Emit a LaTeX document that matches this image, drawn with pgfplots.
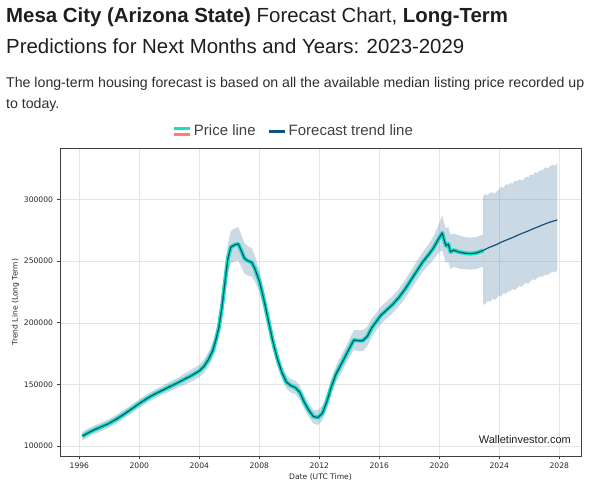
\documentclass[border=0pt]{standalone}
\usepackage{fontspec}
\setmainfont{Liberation Sans}
\newfontfamily\dejavu{DejaVu Sans}
\usepackage{pgfplots}
\pgfplotsset{compat=1.18}
\usepgfplotslibrary{fillbetween}
\usepackage{pgfplotstable}

\definecolor{turq}{RGB}{24,224,184}
\definecolor{salmonc}{RGB}{250,128,114}
\definecolor{trend}{RGB}{14,82,128}
\definecolor{bandc}{RGB}{80,130,163}
\definecolor{titlec}{RGB}{30,30,30}
\definecolor{parac}{RGB}{45,45,45}

% history: x = decimal year, v = median price, w = half width of the band
\pgfplotstableread{
x v w
1996.2 108000 3500
1996.6 110800 3500
1997.0 113200 3500
1997.5 115800 3500
1998.0 118500 3500
1998.5 122000 3500
1999.0 126000 3500
1999.5 130200 3500
2000.0 134500 3500
2000.5 138500 3500
2001.0 142000 3500
2001.5 145000 3500
2002.0 148000 4000
2002.5 151000 4000
2003.0 154200 4500
2003.5 157300 5000
2004.0 161000 5000
2004.3 164500 5500
2004.6 170000 6000
2004.9 177500 6500
2005.1 186000 7000
2005.3 196000 7500
2005.5 212000 8500
2005.7 232000 10000
2005.9 252000 11500
2006.1 261500 13000
2006.4 263500 13500
2006.6 264000 13500
2006.8 258500 13000
2007.0 252500 12500
2007.2 250500 12000
2007.5 249000 11500
2007.7 244000 10500
2008.0 234000 9000
2008.3 219000 8000
2008.6 202000 7000
2008.9 185000 6000
2009.2 171000 5500
2009.5 160000 5500
2009.8 152000 5500
2010.1 149000 5500
2010.4 147500 5500
2010.7 143500 5500
2011.0 135500 5500
2011.3 129000 5500
2011.6 124000 5500
2011.9 123000 6000
2012.2 126500 6000
2012.5 136000 6000
2012.8 148000 6500
2013.1 158000 6500
2013.4 165000 7000
2013.7 172000 7000
2014.0 179000 7500
2014.3 186000 8000
2014.6 185500 8500
2014.9 185500 8500
2015.2 189000 8000
2015.5 196000 7500
2015.8 201000 7000
2016.1 206000 7000
2016.5 210500 7000
2016.9 215000 7000
2017.3 220500 7000
2017.7 227000 7500
2018.1 234500 7500
2018.5 242000 8000
2018.9 249500 8000
2019.3 255500 8500
2019.6 260500 9500
2019.9 267000 11000
2020.2 273000 14000
2020.35 266000 14000
2020.45 262500 14000
2020.6 264000 14000
2020.75 257500 14000
2020.95 259000 13500
2021.3 257500 13500
2021.7 256500 13000
2022.1 256200 13000
2022.5 256800 13000
2022.93 258700 13000
}\hist

\pgfplotstableread{
x v
2022.93 258700
2023.2 260500
2023.5 262000
2023.8 263500
2024.1 265300
2024.4 266800
2024.7 268300
2025.0 269800
2025.3 271500
2025.6 273000
2025.9 274400
2026.2 276000
2026.5 277500
2026.8 279000
2027.1 280500
2027.4 281800
2027.87 283500
}\fc

\pgfplotstableread{
x lo hi
2022.93 216000 302600
2023.05 214500 304500
2023.2 217500 303500
2023.38 217200 305300
2023.55 219500 306000
2023.7 218500 304800
2023.83 220000 306600
2024.0 222500 308500
2024.1 221000 310700
2024.27 224100 309500
2024.45 223500 312500
2024.6 225800 311800
2024.7 225400 313400
2024.9 227500 313000
2025.05 226500 315500
2025.16 228100 314700
2025.35 230000 316500
2025.5 229000 315400
2025.6 230800 316100
2025.8 232500 318800
2025.95 231500 318000
2026.05 233500 320200
2026.25 235500 319800
2026.4 234500 322500
2026.5 236300 321600
2026.7 237500 323500
2026.93 237600 324300
2027.1 239500 326500
2027.2 238600 325000
2027.38 240300 326900
2027.55 241500 328500
2027.7 240800 327500
2027.87 242500 329700
}\fband

\begin{document}
\begin{tikzpicture}

% titles
\node[anchor=base west, inner sep=0pt, text=titlec, font=\fontsize{20.4}{23}\selectfont] at (6pt,463.7pt)
  {\textbf{Mesa City (Arizona State)} Forecast Chart, \textbf{Long-Term}};
\node[anchor=base west, inner sep=0pt, text=titlec, font=\fontsize{20.4}{23}\selectfont] at (6pt,432.7pt)
  {Predictions for Next Months and Years: 2023-2029};
\node[anchor=base west, inner sep=0pt, text=parac, font=\fontsize{14.15}{16}\selectfont] at (6pt,398.7pt)
  {The long-term housing forecast is based on all the available median listing price recorded up};
\node[anchor=base west, inner sep=0pt, text=parac, font=\fontsize{14.15}{16}\selectfont] at (6pt,377.7pt)
  {to today.};

\begin{axis}[
  at={(60pt,30pt)}, anchor=south west,
  width=521pt, height=308pt, scale only axis,
  xmin=1994.71, xmax=2029.45, ymin=91900, ymax=341900,
  xtick={1996,2000,...,2028},
  ytick={100000,150000,...,300000},
  grid=major,
  major grid style={color=black!10, line width=0.6pt},
  axis line style={black!75, line width=0.8pt},
  tick align=outside, tick pos=left,
  major tick length=3.5pt,
  tick style={black!75, line width=0.7pt},
  scaled x ticks=false, scaled y ticks=false,
  /pgf/number format/assume math mode=true,
  xticklabel style={/pgf/number format/fixed, /pgf/number format/precision=0, /pgf/number format/1000 sep={}},
  yticklabel style={/pgf/number format/fixed, /pgf/number format/precision=0, /pgf/number format/1000 sep={}},
  ticklabel style={font=\dejavu\fontsize{7.6}{9}\selectfont, text=black!85},
  xlabel={Date (UTC Time)}, ylabel={Trend Line (Long Term)},
  label style={font=\dejavu\fontsize{7.6}{9}\selectfont, text=black!85},
  xlabel style={yshift=2pt},
  ylabel style={yshift=-2pt},
  legend style={at={(axis description cs:0.449,1.055)}, anchor=center,
    draw=none, fill=none, legend columns=2,
    font=\fontsize{15}{18}\selectfont, text=black!75,
    /tikz/every even column/.append style={column sep=10pt}},
  legend cell align=left,
]
\addplot[name path=U1, draw=none, forget plot] table[x=x, y expr=\thisrow{v}+\thisrow{w}] {\hist};
\addplot[name path=L1, draw=none, forget plot] table[x=x, y expr=\thisrow{v}-\thisrow{w}] {\hist};
\addplot[fill=bandc, fill opacity=0.3, draw=none, forget plot] fill between[of=U1 and L1];
\addplot[name path=U2, draw=none, forget plot] table[x=x, y=hi] {\fband};
\addplot[name path=L2, draw=none, forget plot] table[x=x, y=lo] {\fband};
\addplot[fill=bandc, fill opacity=0.3, draw=none, forget plot] fill between[of=U2 and L2];

\addplot[turq, line width=4pt, line join=round,
  legend image code/.code={
    \draw[turq, line width=3pt] (0pt,3pt) -- (16pt,3pt);
    \draw[salmonc, line width=3pt] (0pt,-3pt) -- (16pt,-3pt);}]
  table[x=x, y=v] {\hist};
\addlegendentry{Price line}
\addplot[trend, line width=1.2pt, line join=round, forget plot] table[x=x, y=v] {\hist};
\addplot[trend, line width=1.2pt, line join=round,
  legend image code/.code={
    \draw[trend, line width=3pt] (0pt,0pt) -- (16pt,0pt);}]
  table[x=x, y=v] {\fc};
\addlegendentry{Forecast trend line}
\end{axis}

\node[anchor=base east, inner sep=0pt, text=titlec, font=\fontsize{11}{13}\selectfont] at (571pt,42pt) {Walletinvestor.com};
\path (0pt,0pt) rectangle (606pt,486pt);
\end{tikzpicture}
\end{document}
